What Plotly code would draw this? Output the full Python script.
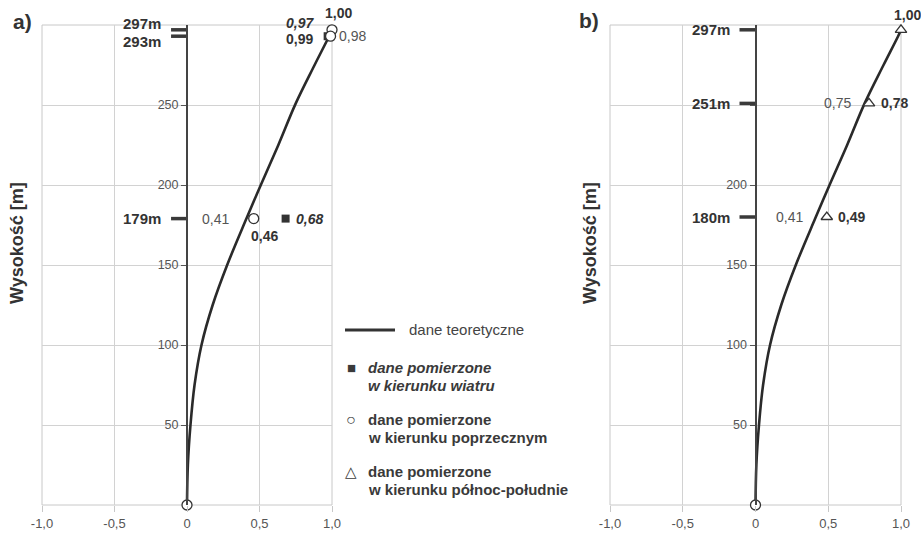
import plotly.graph_objects as go

FONT = "Liberation Sans, Arial, sans-serif"
DARK = "#333333"
GREY = "#555555"
GRID = "#d2d2d2"

# Theoretical first mode shape (normalised deflection vs. height)
heights = [0, 25, 50, 75, 100, 125, 150, 179, 200, 225, 251, 275, 293, 297]
theory = [0.0, 0.006, 0.024, 0.052, 0.10, 0.177, 0.277, 0.41, 0.509, 0.63, 0.75, 0.88, 0.98, 1.00]

# Panel a) measurements
wind_h = [0, 293, 179]
wind_v = [0.0, 0.97, 0.68]
cross_h_a = [0, 297, 293, 179]
cross_v_a = [0.0, 1.00, 0.99, 0.46]
theory_lbl_h_a = [179, 293]
theory_lbl_v_a = [0.41, 0.98]
levels_a = [297, 293, 179]

# Panel b) measurements
ns_h = [297, 251, 180]
ns_v = [1.00, 0.78, 0.49]
cross_h_b = [0]
cross_v_b = [0.0]
theory_lbl_h_b = [251, 180]
theory_lbl_v_b = [0.75, 0.41]
levels_b = [297, 251, 180]

x_ticks = [-1, -0.5, 0, 0.5, 1]
x_tick_text = ["-1,0", "-0,5", "0", "0,5", "1,0"]
y_ticks = [50, 100, 150, 200, 250]
y_tick_text_a = ["50", "100", "150", "200", "250"]
y_tick_text_b = ["50", "100", "150", "200", ""]

W, H = 921, 535
dom_a = [42 / W, 332 / W]
dom_b = [610 / W, 901 / W]
dom_y = [1 - 505 / H, 1 - 25 / H]


def fmt(v):
    return f"{v:.2f}".replace(".", ",")


def level_segments(levels):
    xs, ys = [], []
    for h in levels:
        xs += [-0.11, 0, None]
        ys += [h, h, None]
    return xs, ys


fig = go.Figure()

for xa, ya in (("x", "y"), ("x2", "y2")):
    fig.add_trace(go.Scatter(x=theory, y=heights, mode="lines", xaxis=xa, yaxis=ya,
                             line=dict(color="#2a2a2a", width=2.6, shape="spline",
                                       smoothing=1.0),
                             cliponaxis=False, showlegend=False, hoverinfo="skip"))

lx, ly = level_segments(levels_a)
fig.add_trace(go.Scatter(x=lx, y=ly, mode="lines", xaxis="x", yaxis="y",
                         line=dict(color="#3a3a3a", width=3.5), cliponaxis=False,
                         showlegend=False, hoverinfo="skip"))
lx, ly = level_segments(levels_b)
fig.add_trace(go.Scatter(x=lx, y=ly, mode="lines", xaxis="x2", yaxis="y2",
                         line=dict(color="#3a3a3a", width=3.5), cliponaxis=False,
                         showlegend=False, hoverinfo="skip"))

# squares: along wind direction
fig.add_trace(go.Scatter(x=wind_v, y=wind_h, mode="markers", xaxis="x", yaxis="y",
                         marker=dict(symbol="square", size=8, color="#333333"),
                         cliponaxis=False, showlegend=False))
# circles: transverse direction
marker_circle = dict(symbol="circle", size=10, color="white",
                     line=dict(color="#333333", width=1.3))
fig.add_trace(go.Scatter(x=cross_v_a, y=cross_h_a, mode="markers", xaxis="x", yaxis="y",
                         marker=marker_circle, cliponaxis=False, showlegend=False))
fig.add_trace(go.Scatter(x=cross_v_b, y=cross_h_b, mode="markers", xaxis="x2", yaxis="y2",
                         marker=marker_circle, cliponaxis=False, showlegend=False))
# triangles: north-south direction
fig.add_trace(go.Scatter(x=ns_v, y=ns_h, mode="markers", xaxis="x2", yaxis="y2",
                         marker=dict(symbol="triangle-up", size=10, color="white",
                                     line=dict(color="#333333", width=1.3)),
                         cliponaxis=False, showlegend=False))

ann = []


def label(text, x, y, xref, yref, size=14, color=DARK, xanchor="center",
          xshift=0, yshift=0, **kw):
    ann.append(dict(text=text, x=x, y=y, xref=xref, yref=yref, showarrow=False,
                    xanchor=xanchor, yanchor="middle", xshift=xshift, yshift=yshift,
                    font=dict(family=FONT, size=size, color=color), **kw))


# height markers
level_shift_a = {297: 6, 293: -5, 179: 0}
for h in levels_a:
    label(f"<b>{h}m</b>", -0.11, h, "x", "y", size=15, xanchor="right",
          xshift=-8, yshift=level_shift_a[h])
for h in levels_b:
    label(f"<b>{h}m</b>", -0.11, h, "x2", "y2", size=15, xanchor="right", xshift=-8)

# panel a value labels
label(f"<b>{fmt(cross_v_a[1])}</b>", cross_v_a[1], cross_h_a[1], "x", "y",
      xshift=6, yshift=17)
label(f"<b><i>{fmt(wind_v[1])}</i></b>", wind_v[1], wind_h[1], "x", "y",
      xanchor="right", xshift=-12, yshift=13)
label(f"<b>{fmt(cross_v_a[2])}</b>", cross_v_a[2], cross_h_a[2], "x", "y",
      xanchor="right", xshift=-16, yshift=-3)
label(fmt(theory_lbl_v_a[1]), theory_lbl_v_a[1], theory_lbl_h_a[1], "x", "y",
      color=GREY, xanchor="left", xshift=8, yshift=0)
label(fmt(theory_lbl_v_a[0]), theory_lbl_v_a[0], theory_lbl_h_a[0], "x", "y",
      color=GREY, xanchor="right", xshift=-15)
label(f"<b>{fmt(cross_v_a[3])}</b>", cross_v_a[3], cross_h_a[3], "x", "y",
      xanchor="left", xshift=-5, yshift=-17)
label(f"<b><i>{fmt(wind_v[2])}</i></b>", wind_v[2], wind_h[2], "x", "y",
      xanchor="left", xshift=8)

# panel b value labels
label(f"<b>{fmt(ns_v[0])}</b>", ns_v[0], ns_h[0], "x2", "y2", xshift=6, yshift=15)
label(fmt(theory_lbl_v_b[0]), theory_lbl_v_b[0], theory_lbl_h_b[0], "x2", "y2",
      color=GREY, xanchor="right", xshift=-12)
label(f"<b>{fmt(ns_v[1])}</b>", ns_v[1], ns_h[1], "x2", "y2", xanchor="left", xshift=10)
label(fmt(theory_lbl_v_b[1]), theory_lbl_v_b[1], theory_lbl_h_b[1], "x2", "y2",
      color=GREY, xanchor="right", xshift=-10)
label(f"<b>{fmt(ns_v[2])}</b>", ns_v[2], ns_h[2], "x2", "y2", xanchor="left", xshift=9)

# panel titles and axis titles
label("<b>a)</b>", 22 / W, 1 - 21 / H, "paper", "paper", size=21)
label("<b>b)</b>", 589 / W, 1 - 20 / H, "paper", "paper", size=21)
for px in (17, 590):
    label("<b>Wysokość [m]</b>", px / W, 1 - 243 / H, "paper", "paper", size=18,
          textangle=-90)

# legend
legend_items = [
    ("■", 15, ["<b><i>dane pomierzone</i></b>", "<b><i>w kierunku wiatru</i></b>"], 367),
    ("○", 16, ["<b>dane pomierzone</b>", "<b>w kierunku poprzecznym</b>"], 419),
    ("△", 15, ["<b>dane pomierzone</b>", "<b>w kierunku </b><b>północ-południe</b>"], 471),
]
label("dane teoretyczne", 407 / W, 1 - 329 / H, "paper", "paper", size=15,
      color="#444444", xanchor="left")
for sym, sym_size, lines, py in legend_items:
    label(sym, 351 / W, 1 - py / H, "paper", "paper", size=sym_size, color="#3a3a3a")
    for i, line in enumerate(lines):
        label(line, 366 / W, 1 - (py + 18 * i) / H, "paper", "paper", size=15,
              color="#3a3a3a", xanchor="left")

shapes = [
    dict(type="line", xref="paper", yref="paper", x0=345 / W, x1=395 / W,
         y0=1 - 330 / H, y1=1 - 330 / H, line=dict(color="#333333", width=3)),
]
for xr, yr in (("x domain", "y domain"), ("x2 domain", "y2 domain")):
    shapes.append(dict(type="rect", xref=xr, yref=yr, x0=0, x1=1, y0=0, y1=1,
                       line=dict(color="#c8c8c8", width=1), layer="below"))

xaxis_common = dict(range=[-1, 1], tickvals=x_ticks, ticktext=x_tick_text,
                    showgrid=True, gridcolor=GRID, gridwidth=1, zeroline=False,
                    showline=False, ticks="outside", ticklen=6, tickcolor="#c8c8c8",
                    tickfont=dict(family=FONT, size=13, color=GREY), fixedrange=True,
                    automargin=False)
yaxis_common = dict(range=[0, 300], tickvals=y_ticks, showgrid=True, gridcolor=GRID,
                    gridwidth=1, zeroline=False, showline=True, linecolor="#444444",
                    linewidth=2, ticks="outside", ticklen=5, tickcolor="#555555",
                    tickfont=dict(family=FONT, size=12.5, color=GREY), fixedrange=True,
                    anchor="free", domain=dom_y, automargin=False)

fig.update_layout(
    width=W, height=H, margin=dict(l=0, r=0, t=0, b=0, autoexpand=False),
    paper_bgcolor="white", plot_bgcolor="white", showlegend=False,
    xaxis=dict(domain=dom_a, anchor="y", **xaxis_common),
    xaxis2=dict(domain=dom_b, anchor="y2", **xaxis_common),
    yaxis=dict(position=sum(dom_a) / 2, ticktext=y_tick_text_a, **yaxis_common),
    yaxis2=dict(position=sum(dom_b) / 2, ticktext=y_tick_text_b, **yaxis_common),
    annotations=ann, shapes=shapes,
)

fig.write_html("out.html")
